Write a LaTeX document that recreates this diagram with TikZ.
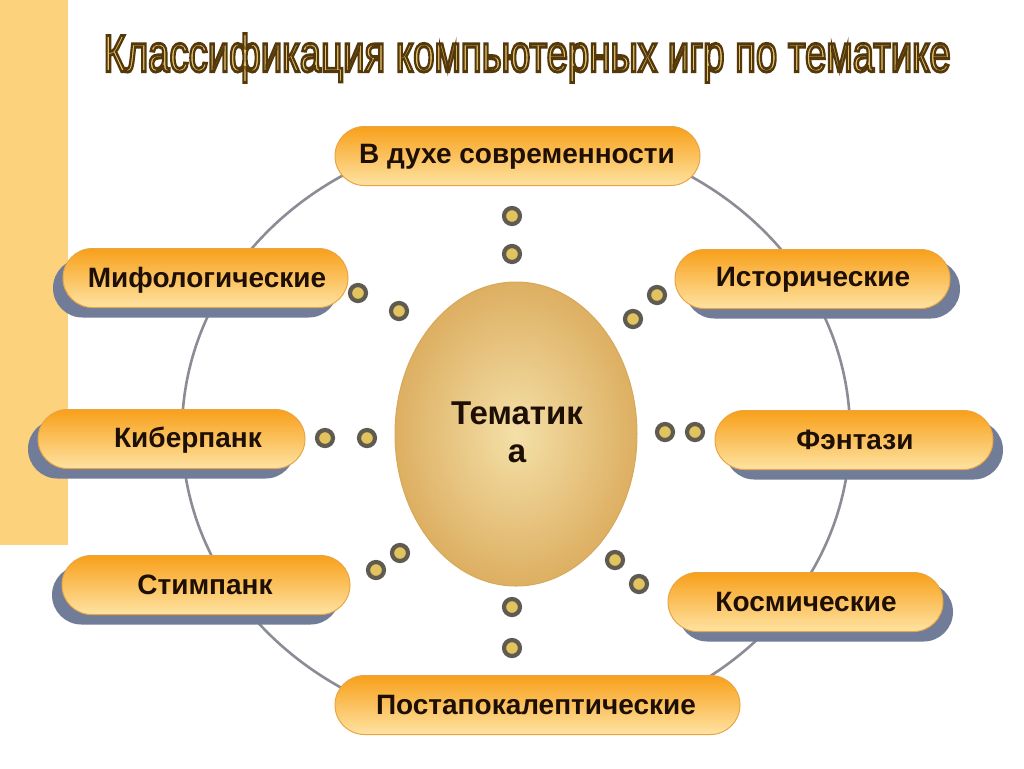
\documentclass[tikz,border=0pt]{standalone}
\usepackage{fontspec}
\setmainfont{Liberation Sans}
\usetikzlibrary{shapes.geometric,shadows}
\definecolor{band}{HTML}{FCD27C}
\definecolor{ringc}{HTML}{8C8C96}
\definecolor{pilltop}{HTML}{F8A01A}
\definecolor{pillmid}{HTML}{FBBE4A}
\definecolor{pillbot}{HTML}{FEE3A2}
\definecolor{pillline}{HTML}{E9A545}
\definecolor{shadowc}{HTML}{707C98}
\definecolor{txt}{HTML}{1E0F05}
\definecolor{dotline}{HTML}{5F5B50}
\definecolor{dotfill}{HTML}{E2C35E}
\definecolor{eggin}{HTML}{F4E0A8}
\definecolor{eggout}{HTML}{DDAF62}
\definecolor{eggline}{HTML}{D6A95A}
\definecolor{titlefill}{HTML}{E6C572}
\newcommand{\strokedtext}[1]{\special{pdf:literal direct 2 Tr 0.55 w 0.33 0.22 0.04 RG}#1\special{pdf:literal direct 0 Tr}}
\tikzset{
  pill/.style={rectangle, rounded corners=14.75pt, minimum height=29.5pt, inner sep=0pt,
    top color=pilltop, middle color=pillmid, bottom color=pillbot, draw=pillline, line width=0.5pt},
  shl/.style={drop shadow={shadow xshift=-5pt, shadow yshift=-5pt, fill=shadowc, opacity=1}},
  shr/.style={drop shadow={shadow xshift=5pt, shadow yshift=-5pt, fill=shadowc, opacity=1}},
  lbl/.style={font=\fontsize{14}{16}\selectfont\bfseries, text=txt, inner sep=0pt},
  dot/.style={circle, minimum size=8pt, inner sep=0pt, draw=dotline, line width=2.1pt, fill=dotfill}
}
\begin{document}
\begin{tikzpicture}[x=0.5pt,y=-0.5pt]
\useasboundingbox (0,0) rectangle (1024,768);
\fill[white] (0,0) rectangle (1024,768);
\fill[band] (0,0) rectangle (68,545);
% title
\node[inner sep=0pt] (title) at (527,58) {\resizebox{423.5pt}{19pt}{\color{titlefill}\strokedtext{Классификация компьютерных игр по тематике}}};
% ring
\node[ellipse, draw=ringc, line width=1.3pt, minimum width=334pt, minimum height=300pt, inner sep=0pt] (ring) at (516,432) {};
% centre
\node[ellipse, minimum width=121pt, minimum height=152pt, inner sep=0pt, inner color=eggin, outer color=eggout, draw=eggline, line width=0.5pt] (theme) at (516,434) {};
\node[font=\fontsize{16.5}{19}\selectfont\bfseries, text=txt, align=center, inner sep=0pt] (themeT) at (517,432) {Тематик\\а};
% pills
\node[pill, minimum width=182.5pt] (p1) at (517.5,156) {};
\node[lbl] (p1T) at (517,157) {В духе современности};
\node[pill, shl, minimum width=142.5pt] (p2) at (205.5,278) {};
\node[lbl] (p2T) at (207,280) {Мифологические};
\node[pill, shr, minimum width=137.5pt] (p3) at (812.5,279) {};
\node[lbl] (p3T) at (813,280) {Исторические};
\node[pill, shl, minimum width=133.5pt] (p4) at (171.5,439) {};
\node[lbl] (p4T) at (188,440) {Киберпанк};
\node[pill, shr, minimum width=139pt] (p5) at (854,440) {};
\node[lbl] (p5T) at (855,440) {Фэнтази};
\node[pill, shl, minimum width=144pt] (p6) at (206,585) {};
\node[lbl] (p6T) at (205,585) {Стимпанк};
\node[pill, shr, minimum width=137.5pt] (p7) at (805.5,602) {};
\node[lbl] (p7T) at (806,602) {Космические};
\node[pill, minimum width=202.5pt] (p8) at (537.5,705) {};
\node[lbl] (p8T) at (536,705) {Постапокалептические};
% dots
\node[dot] (d1a) at (512,216) {};
\node[dot] (d1b) at (512,254) {};
\node[dot] (d2a) at (358,293) {};
\node[dot] (d2b) at (399,311) {};
\node[dot] (d3a) at (657,295) {};
\node[dot] (d3b) at (633,319) {};
\node[dot] (d4a) at (325,438) {};
\node[dot] (d4b) at (367,438) {};
\node[dot] (d5a) at (665,432) {};
\node[dot] (d5b) at (695,432) {};
\node[dot] (d6a) at (376,570) {};
\node[dot] (d6b) at (400,553) {};
\node[dot] (d7a) at (615,560) {};
\node[dot] (d7b) at (639,584) {};
\node[dot] (d8a) at (512,607) {};
\node[dot] (d8b) at (512,648) {};
\end{tikzpicture}
\end{document}
